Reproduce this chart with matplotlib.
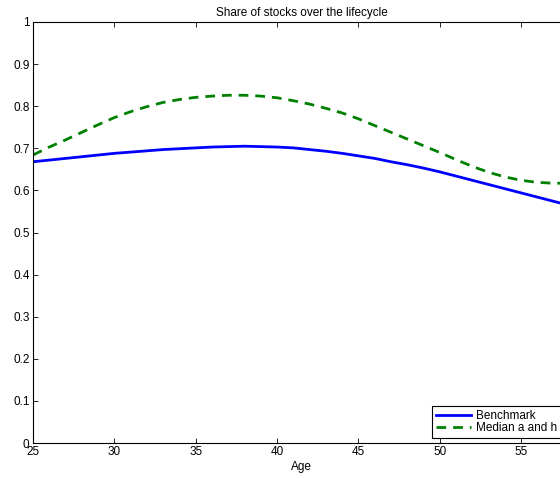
import numpy as np
import matplotlib
matplotlib.use('Agg')
import matplotlib.pyplot as plt

age = np.arange(25, 59)
benchmark = [0.668, 0.672, 0.676, 0.680, 0.684, 0.688, 0.691, 0.694, 0.697, 0.699,
             0.701, 0.703, 0.704, 0.705, 0.704, 0.703, 0.701, 0.697, 0.693, 0.688,
             0.682, 0.676, 0.668, 0.661, 0.653, 0.644, 0.634, 0.624, 0.614, 0.604,
             0.594, 0.584, 0.574, 0.564]
median_ah = [0.684, 0.703, 0.720, 0.738, 0.756, 0.773, 0.787, 0.799, 0.809, 0.816,
             0.821, 0.824, 0.826, 0.826, 0.824, 0.820, 0.813, 0.805, 0.795, 0.784,
             0.770, 0.754, 0.738, 0.722, 0.706, 0.690, 0.673, 0.657, 0.643, 0.632,
             0.624, 0.619, 0.617, 0.617]

plt.rcParams['font.family'] = ['Liberation Sans', 'DejaVu Sans']
plt.rcParams['xtick.direction'] = 'in'
plt.rcParams['ytick.direction'] = 'in'

fig = plt.figure(figsize=(5.6, 4.78), dpi=100)
# axes run a little past the right edge of the picture, as in the reference
ax = fig.add_axes([33/560, 35/478, 537/560, 421/478])

ax.plot(age, benchmark, color='#0000ff', lw=2, label='Benchmark')
ax.plot(age, median_ah, color='#008000', lw=2, ls=(0, (3.5, 2.5)), label='Median a and h')

ax.set_xlim(25, 58)
ax.set_ylim(0, 1)
ax.set_xticks(np.arange(25, 58, 5))
ax.set_yticks(np.arange(0, 1.01, 0.1))
ax.set_yticklabels(['0', '0.1', '0.2', '0.3', '0.4', '0.5', '0.6', '0.7', '0.8', '0.9', '1'])
ax.tick_params(top=True, right=True, labelsize=8.5, length=3.6, width=0.6, pad=2.5)
for s in ax.spines.values():
    s.set_linewidth(0.8)

ax.set_xlabel('Age', fontsize=8.5, labelpad=2)
ax.set_title('Share of stocks over the lifecycle', fontsize=8.5, pad=4)

leg = ax.legend(loc='lower right', bbox_to_anchor=(0.984, 0.011), fontsize=8.5,
                fancybox=False, edgecolor='black', framealpha=1, borderaxespad=0,
                handlelength=2.95, borderpad=0.35, labelspacing=0.05, handletextpad=0.45)
leg.get_frame().set_linewidth(0.8)

plt.savefig('out.png', dpi=100)
